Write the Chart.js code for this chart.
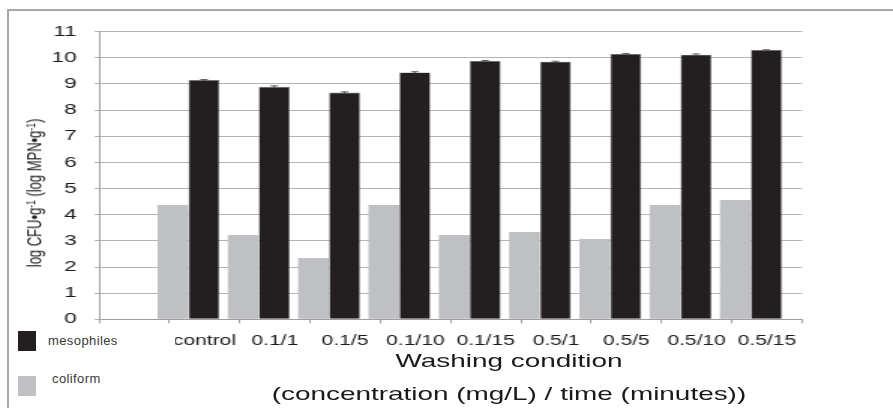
<!DOCTYPE html>
<html lang="en">
<head>
<meta charset="UTF-8" />
<title>Washing condition</title>
<style>
  body { margin: 0; background: #fff; overflow: hidden; }
  #frame {
    position: absolute; left: 7px; top: 9px; width: 900px; height: 420px;
    border-top: 2px solid #a8a8a8; border-left: 2px solid #a8a8a8;
  }
  /* the figure is drawn narrow and stretched sideways, like the reference */
  #stretch {
    position: absolute; left: 0; top: 0; width: 595px; height: 408px;
    transform: scaleX(1.50084); transform-origin: 0 0;
    font-family: "Liberation Sans", Arial, sans-serif; color: #1a1a1a;
  }
  .ytitle {
    position: absolute; left: 23.9px; top: 193px;
    transform: translate(-50%, -50%) rotate(-90deg);
    white-space: nowrap; font-size: 13px; line-height: 16px;
  }
  .ytitle .sup { font-size: 8.5px; position: relative; top: -4.5px; }
  .xtitle {
    position: absolute; left: 139.1px; width: 400px; text-align: center;
    font-size: 18.6px; line-height: 20px; white-space: nowrap;
  }
  #legend {
    position: absolute; left: 9px; top: 324px; width: 166px; height: 84px;
    background: #fff; font-family: "Liberation Sans", Arial, sans-serif;
    font-size: 13px; letter-spacing: 0.4px; color: #3a3a3a;
  }
  .key { position: absolute; width: 18.3px; height: 20px; }
  .lab { position: absolute; line-height: 15px; white-space: nowrap; }
</style>
</head>
<body>
  <div id="frame"></div>
  <div id="stretch">
    <canvas id="chart"></canvas>
    <div class="ytitle">log CFU•g<span class="sup">-1</span> (log MPN•g<span class="sup">-1</span>)</div>
    <div class="xtitle" style="top: 350.9px">Washing condition</div>
    <div class="xtitle" style="top: 383.6px">(concentration (mg/L) / time (minutes))</div>
  </div>
  <div id="legend"></div>

  <script src="https://cdn.jsdelivr.net/npm/chart.js"></script>
  <script>
    // first category is left blank, as in the original figure
    const categories = ["", "control", "0.1/1", "0.1/5", "0.1/10", "0.1/15", "0.5/1", "0.5/5", "0.5/10", "0.5/15"];
    const mesophiles = [9.15, 8.89, 8.67, 9.44, 9.88, 9.85, 10.15, 10.12, 10.3];
    const mesophilesErr = [0.02, 0.04, 0.03, 0.03, 0.02, 0.02, 0.02, 0.03, 0.01];
    const coliform = [4.37, 3.22, 2.34, 4.37, 3.22, 3.34, 3.07, 4.37, 4.56];
    const seriesNames = ["mesophiles", "coliform"];

    const colors = { mesophiles: "#231f20", coliform: "#bfc0c3" };

    Chart.defaults.font.family = '"Liberation Sans", Arial, sans-serif';
    Chart.defaults.color = "#1a1a1a";

    const toPoints = (vals) => vals.map((v, i) => ({ x: i + 1, y: v }));

    const errorBars = {
      id: "errorBars",
      afterDatasetsDraw(chart) {
        const ctx = chart.ctx;
        const y = chart.scales.y;
        const meta = chart.getDatasetMeta(1);
        ctx.save();
        ctx.strokeStyle = "#3a3a3a";
        ctx.lineWidth = 0.8;
        meta.data.forEach((bar, i) => {
          const v = mesophiles[i];
          const top = y.getPixelForValue(v + mesophilesErr[i]);
          const bot = y.getPixelForValue(v - mesophilesErr[i]);
          ctx.beginPath();
          ctx.moveTo(bar.x, top);
          ctx.lineTo(bar.x, bot);
          ctx.moveTo(bar.x - 2.5, top);
          ctx.lineTo(bar.x + 2.5, top);
          ctx.stroke();
        });
        ctx.restore();
      },
    };

    new Chart(document.getElementById("chart"), {
      type: "bar",
      data: {
        labels: categories,
        datasets: [
          {
            label: "coliform",
            data: toPoints(coliform),
            xAxisID: "xb",
            backgroundColor: colors.coliform,
            borderWidth: 0,
            categoryPercentage: 0.88,
            barPercentage: 1,
          },
          {
            label: "mesophiles",
            data: toPoints(mesophiles),
            xAxisID: "xb",
            backgroundColor: colors.mesophiles,
            borderColor: "#707070",
            borderWidth: 0.6,
            categoryPercentage: 0.88,
            barPercentage: 1,
          },
        ],
      },
      options: {
        responsive: true,
        maintainAspectRatio: false,
        animation: false,
        layout: { padding: { left: 0, top: 31.7, right: 60.6, bottom: 0 } },
        plugins: { legend: { display: false }, tooltip: { enabled: false } },
        scales: {
          x: {
            type: "category",
            offset: true,
            grid: {
              offset: true,
              drawOnChartArea: false,
              tickLength: 4,
              color: "#9e9e9e",
            },
            border: { color: "#9e9e9e" },
            ticks: {
              font: { size: 14 },
              padding: 9,
              autoSkip: false,
              maxRotation: 0,
            },
            afterFit: (s) => { s.height = 88.7; },
          },
          xb: {
            type: "linear",
            display: false,
            offset: false,
            min: -0.272,
            max: 9.728,
            ticks: { stepSize: 1, includeBounds: false },
            grid: { display: false },
          },
          y: {
            min: 0,
            max: 11,
            ticks: { stepSize: 1, font: { size: 15 }, padding: 12 },
            grid: { color: "#b4b4b4", tickLength: 3 },
            border: { color: "#9e9e9e" },
            afterFit: (s) => { s.width = 66; },
          },
        },
      },
      plugins: [errorBars],
    });

    // legend, built from the series names
    const legend = document.getElementById("legend");
    const keyPos = [{ top: 7, textTop: 9, textLeft: 39 }, { top: 52, textTop: 46.7, textLeft: 43 }];
    seriesNames.forEach((name, i) => {
      const key = document.createElement("div");
      key.className = "key";
      key.style.left = "8.7px";
      key.style.top = keyPos[i].top + "px";
      key.style.background = colors[name];
      legend.appendChild(key);
      const lab = document.createElement("div");
      lab.className = "lab";
      lab.style.left = keyPos[i].textLeft + "px";
      lab.style.top = keyPos[i].textTop + "px";
      lab.textContent = name;
      legend.appendChild(lab);
    });
  </script>
</body>
</html>
